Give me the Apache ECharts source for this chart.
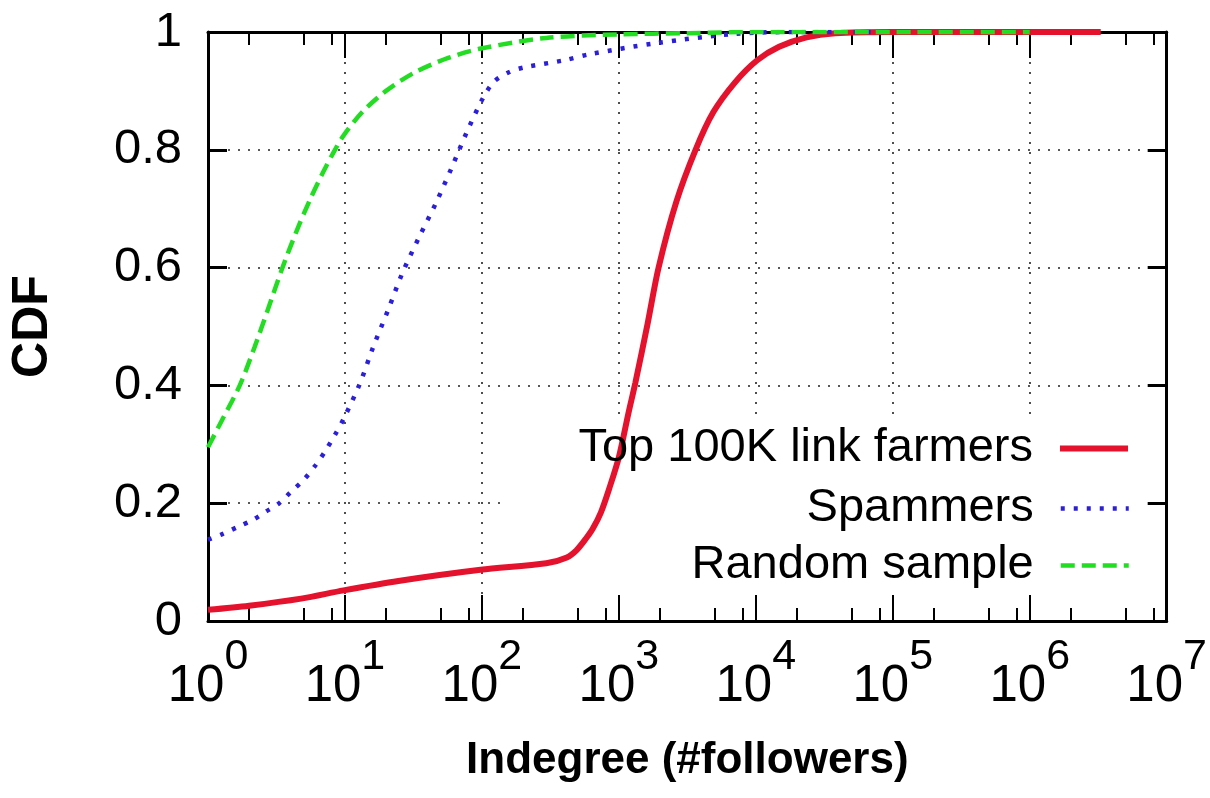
<!DOCTYPE html>
<html><head><meta charset="utf-8">
<script src="https://cdn.jsdelivr.net/npm/echarts@6/dist/echarts.min.js"></script>
<style>html,body{margin:0;padding:0;background:#fff}#c{width:1210px;height:798px}</style>
</head><body><div id="c"></div>
<script>
// ---- data (indegree, CDF) ----
const seriesNames = ['Top 100K link farmers', 'Spammers', 'Random sample'];

const farmersX = [1, 1.995, 4.786, 9.772, 24.55, 97.72, 295.1, 416.9, 489.8, 575.4, 645.7, 741.3, 851.1, 1000, 1175, 1318, 1622, 1950, 2630, 3631, 4898, 7079, 10233, 14791, 23442, 38019, 100000, 1000000, 3300000];
const farmersY = [0.019, 0.026, 0.038, 0.052, 0.068, 0.087, 0.098, 0.108, 0.12, 0.14, 0.157, 0.185, 0.225, 0.278, 0.353, 0.404, 0.505, 0.6, 0.712, 0.8, 0.864, 0.915, 0.952, 0.975, 0.991, 0.998, 1, 1, 1];

const spammersX = [1, 1.259, 1.66, 2.138, 2.655, 3.311, 4.018, 5.012, 6.081, 7.161, 8.453, 9.817, 12.79, 16.07, 20.65, 26.18, 34.51, 46.03, 59.98, 76.91, 101.4, 123, 158.5, 204.2, 398.1, 602.6, 1862, 7079, 19953, 100000];
const spammersY = [0.138, 0.147, 0.16, 0.172, 0.186, 0.2, 0.219, 0.24, 0.264, 0.288, 0.316, 0.344, 0.402, 0.465, 0.528, 0.59, 0.65, 0.709, 0.769, 0.828, 0.887, 0.916, 0.932, 0.94, 0.952, 0.962, 0.981, 0.997, 1, 1];

const randomX = [1, 1.259, 1.706, 2.188, 2.729, 3.499, 4.487, 5.598, 6.966, 8.453, 9.817, 13.49, 19.95, 32.73, 56.75, 98.4, 295, 1000, 3162, 10000, 100000, 1000000];
const randomY = [0.295, 0.34, 0.4, 0.465, 0.528, 0.6, 0.665, 0.717, 0.763, 0.8, 0.825, 0.865, 0.9, 0.932, 0.956, 0.972, 0.99, 0.996, 0.998, 1, 1, 1];

const xMajorTicks = [1, 10, 100, 1e3, 1e4, 1e5, 1e6, 1e7];
const xMinorTicks = [2, 5, 8, 20, 50, 80, 200, 500, 800, 2e3, 5e3, 8e3, 2e4, 5e4, 8e4, 2e5, 5e5, 8e5, 2e6, 5e6, 8e6];
const yTicks = [0, 0.2, 0.4, 0.6, 0.8, 1];

const zip = (xs, ys) => xs.map((x, i) => [x, ys[i]]);

const FONT = "'Liberation Sans', Arial, Helvetica, sans-serif";
const chart = echarts.init(document.getElementById('c'), null, {renderer: 'canvas'});

const gridLine = {show: true, lineStyle: {type: [2, 8], color: '#222', width: 1.6}};
const axisLineStyle = {show: true, lineStyle: {color: '#000', width: 3}};

function xBase(extra) {
  return Object.assign({type: 'log', logBase: 10, min: 1, max: 1e7, splitNumber: 7, gridIndex: 0}, extra);
}
function yBase(extra) {
  return Object.assign({type: 'value', min: 0, max: 1, interval: 0.2, gridIndex: 0}, extra);
}

const seriesColors = ['#e4122c', '#2b1fd8', '#22dd22'];
const seriesWidths = [6, 4.5, 4.5];
const seriesTypes = ['solid', [4, 9], [14, 7]];

const option = {
  backgroundColor: '#fff',
  animation: false,
  grid: {left: 206, right: 30, top: 32, bottom: 177, containLabel: false},
  xAxis: [
    xBase({position: 'bottom', z: 0,
      axisLine: {show: false}, axisTick: {show: false},
      splitLine: gridLine,
      name: 'Indegree (#followers)', nameLocation: 'middle', nameGap: 118,
      nameTextStyle: {fontFamily: FONT, fontWeight: 'bold', fontSize: 44, color: '#000'},
      axisLabel: {margin: 41, color: '#000',
        formatter: v => '{b|10}{s|' + Math.round(Math.log10(v)) + '}',
        rich: {
          b: {fontFamily: FONT, fontSize: 51, lineHeight: 50, verticalAlign: 'bottom', color: '#000'},
          s: {fontFamily: FONT, fontSize: 43, lineHeight: 44, verticalAlign: 'bottom', padding: [0, 0, 33, 0], color: '#000'}
        }}
    }),
    xBase({position: 'bottom', z: 3, axisLine: axisLineStyle,
      axisTick: {show: true, inside: true, length: 26, customValues: xMajorTicks, lineStyle: {color: '#000', width: 2}},
      axisLabel: {show: false}, splitLine: {show: false}}),
    xBase({position: 'bottom', z: 3, axisLine: {show: false},
      axisTick: {show: true, inside: true, length: 13, customValues: xMinorTicks, lineStyle: {color: '#000', width: 2}},
      axisLabel: {show: false}, splitLine: {show: false}}),
    xBase({position: 'top', z: 3, axisLine: axisLineStyle,
      axisTick: {show: true, inside: true, length: 26, customValues: xMajorTicks, lineStyle: {color: '#000', width: 2}},
      axisLabel: {show: false}, splitLine: {show: false}}),
    xBase({position: 'top', z: 3, axisLine: {show: false},
      axisTick: {show: true, inside: true, length: 13, customValues: xMinorTicks, lineStyle: {color: '#000', width: 2}},
      axisLabel: {show: false}, splitLine: {show: false}})
  ],
  yAxis: [
    yBase({position: 'left', z: 0, axisLine: {show: false}, axisTick: {show: false},
      splitLine: gridLine,
      name: 'CDF', nameLocation: 'middle', nameGap: 150,
      nameTextStyle: {fontFamily: FONT, fontWeight: 'bold', fontSize: 50, color: '#000'},
      axisLabel: {margin: 26, fontFamily: FONT, fontSize: 49, color: '#000',
        formatter: v => (v === 0 ? '0' : v === 1 ? '1' : v.toFixed(1))}
    }),
    yBase({position: 'left', z: 3, axisLine: axisLineStyle,
      axisTick: {show: true, inside: true, length: 19, customValues: yTicks, lineStyle: {color: '#000', width: 3}},
      axisLabel: {show: false}, splitLine: {show: false}}),
    yBase({position: 'right', z: 3, axisLine: axisLineStyle,
      axisTick: {show: true, inside: true, length: 19, customValues: yTicks, lineStyle: {color: '#000', width: 3}},
      axisLabel: {show: false}, splitLine: {show: false}})
  ],
  legend: [0, 1, 2].map(i => ({
    data: [seriesNames[i]], orient: 'horizontal', align: 'right', right: 79, top: [425, 485, 542][i],
    itemWidth: 68, itemHeight: 14, itemGap: 0, padding: 0, selectedMode: false, z: 5,
    itemStyle: {color: 'rgba(0,0,0,0)', borderWidth: 0},
    lineStyle: {width: seriesWidths[i]},
    textStyle: {fontFamily: FONT, fontSize: 47, color: '#000', padding: [0, 22, 0, 0]}
  })),
  series: [
    {name: seriesNames[0], data: zip(farmersX, farmersY)},
    {name: seriesNames[1], data: zip(spammersX, spammersY)},
    {name: seriesNames[2], data: zip(randomX, randomY)}
  ].map((s, i) => Object.assign(s, {
    type: 'line', showSymbol: false, symbol: 'none', smooth: 0.3, z: 4,
    lineStyle: {color: seriesColors[i], width: seriesWidths[i], type: seriesTypes[i]},
    itemStyle: {color: seriesColors[i]}
  }))
};
chart.setOption(option);

// opaque key box (hides the grid behind the legend, as in the original)
const tl = chart.convertToPixel({xAxisIndex: 0, yAxisIndex: 0}, [Math.pow(10, 2.15), 0.346]);
const br = chart.convertToPixel({xAxisIndex: 0, yAxisIndex: 0}, [1e7, 0]);
chart.setOption({graphic: [{type: 'rect', z: 1, silent: true,
  shape: {x: tl[0], y: tl[1], width: br[0] - tl[0] - 2, height: br[1] - tl[1] - 2},
  style: {fill: '#fff'}}]});
</script></body></html>
